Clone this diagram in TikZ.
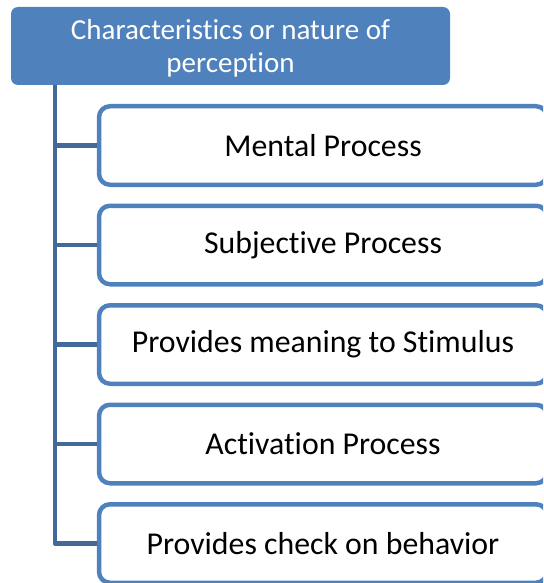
\documentclass[tikz,border=0pt]{standalone}
\usepackage{fontspec}
\setmainfont{Carlito}[Ligatures=CommonOff]
\definecolor{boxblue}{HTML}{4F81BD}
\definecolor{linkblue}{HTML}{41699A}
\begin{document}
\begin{tikzpicture}[x=1pt,y=-1pt,
  headbox/.style={rectangle, rounded corners=7pt, fill=boxblue, draw=none,
    minimum width=439pt, minimum height=78pt, inner sep=0pt, text=white,
    font=\fontsize{29}{32.5}\selectfont, align=center},
  itembox/.style={rectangle, rounded corners=11pt, draw=boxblue, fill=white, line width=4.5pt,
    minimum width=448pt, minimum height=78.5pt, inner sep=0pt, text=black,
    font=\fontsize{31.8}{36}\selectfont},
  link/.style={draw=linkblue, line width=4.5pt, line join=round}]
\useasboundingbox (0,0) rectangle (543,583);
\clip (0,0) rectangle (543,583);
\node[headbox, text depth=0pt] (head) at (230.5,46) {Characteristics or nature of\\perception};
\node[itembox] (b1) at (323,145.5) {Mental Process};
\node[itembox] (b2) at (323,245) {Subjective Process};
\node[itembox] (b3) at (323,344.5) {Provides meaning to Stimulus};
\node[itembox] (b4) at (323,444) {Activation Process};
\node[itembox] (b5) at (323,543.5) {Provides check on behavior};
\coordinate (t0) at (55,85);
\coordinate (t1) at (55,145.5);
\coordinate (t2) at (55,245);
\coordinate (t3) at (55,344.5);
\coordinate (t4) at (55,444);
\coordinate (t5) at (55,543.5);
\path[link] (t0) -- (t5) -- (b5.west);
\path[link] (t1) -- (b1.west);
\path[link] (t2) -- (b2.west);
\path[link] (t3) -- (b3.west);
\path[link] (t4) -- (b4.west);
\end{tikzpicture}
\end{document}
